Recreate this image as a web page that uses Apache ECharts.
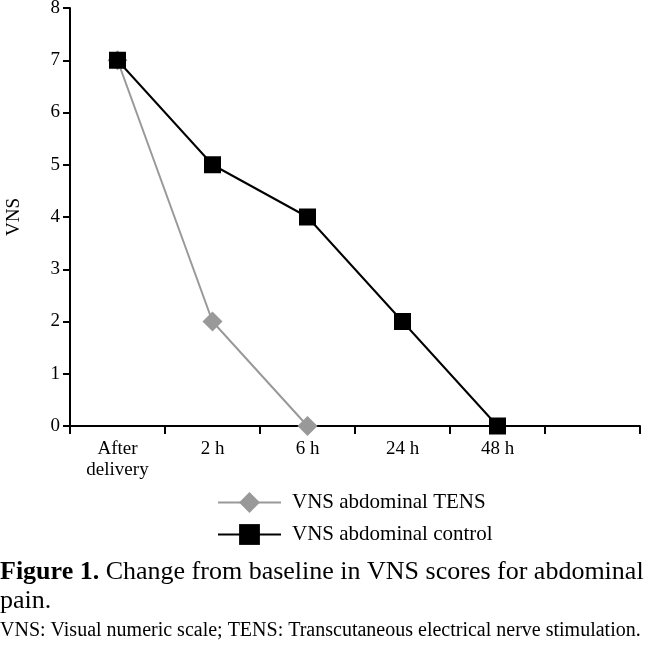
<!DOCTYPE html>
<html><head><meta charset="utf-8">
<script src="https://cdn.jsdelivr.net/npm/echarts@6/dist/echarts.min.js"></script>
<style>html,body{margin:0;padding:0;background:#fff}#c{width:646px;height:645px}</style>
</head><body><div id="c"></div>
<script>
const categories = ['After\ndelivery', '2 h', '6 h', '24 h', '48 h', ''];
const tensValues = [7, 2, 0, null, null, null];
const controlValues = [7, 5, 4, 2, 0, null];
const yTicks = [0, 8, 1];
const seriesNames = ['VNS abdominal TENS', 'VNS abdominal control'];
const FONT = 'Liberation Serif';

const chart = echarts.init(document.getElementById('c'));
chart.setOption({
  animation: false,
  grid: {left: 70, right: 6, top: 8, bottom: 219, containLabel: false, outerBoundsMode: 'none'},
  xAxis: {
    type: 'category', data: categories, boundaryGap: true,
    axisLine: {lineStyle: {color: '#000', width: 2}},
    axisTick: {show: true, length: 8, lineStyle: {color: '#000', width: 2}},
    axisLabel: {color: '#000', fontFamily: FONT, fontSize: 19, lineHeight: 21, margin: 13, interval: 0}
  },
  yAxis: {
    type: 'value', min: yTicks[0], max: yTicks[1], interval: yTicks[2],
    name: 'VNS', nameLocation: 'middle', nameGap: 46, nameRotate: 90,
    nameTextStyle: {color: '#000', fontFamily: FONT, fontSize: 19},
    splitLine: {show: false},
    axisLine: {show: true, lineStyle: {color: '#000', width: 2}},
    axisTick: {show: true, length: 7, lineStyle: {color: '#000', width: 2}},
    axisLabel: {color: '#000', fontFamily: FONT, fontSize: 19, margin: 10}
  },
  legend: {
    orient: 'vertical', left: 212, top: 487, itemGap: 11,
    itemWidth: 63, itemHeight: 26,
    textStyle: {color: '#000', fontFamily: FONT, fontSize: 21, padding: [0, 0, 0, 6]},
    data: seriesNames
  },
  series: [
    {name: seriesNames[0], type: 'line', data: tensValues, symbol: 'diamond', symbolSize: 20,
     lineStyle: {color: '#999', width: 2}, itemStyle: {color: '#999'}, z: 2},
    {name: seriesNames[1], type: 'line', data: controlValues, symbol: 'rect', symbolSize: 17,
     lineStyle: {color: '#000', width: 2}, itemStyle: {color: '#000'}, z: 3}
  ],
  graphic: [
    {type: 'text', left: 0, top: 559, style: {
      text: '{b|Figure 1.} Change from baseline in VNS scores for abdominal',
      font: '26px ' + FONT, fill: '#000',
      rich: {b: {fontWeight: 'bold', fontSize: 26, fontFamily: FONT, fill: '#000'}}
    }},
    {type: 'text', left: 0, top: 588, style: {text: 'pain.', font: '26px ' + FONT, fill: '#000'}},
    {type: 'text', left: 0, top: 621, style: {
      text: 'VNS: Visual numeric scale; TENS: Transcutaneous electrical nerve stimulation.',
      font: '20px ' + FONT, fill: '#000'}}
  ]
});
</script></body></html>
